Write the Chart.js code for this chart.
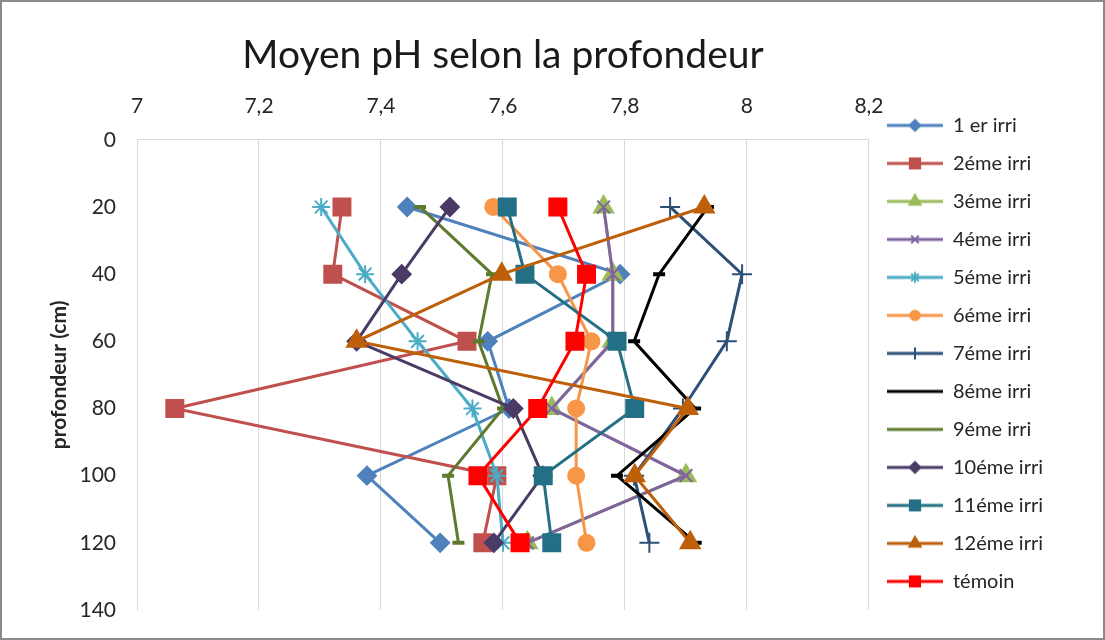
<!DOCTYPE html>
<html>
<head>
<meta charset="utf-8">
<script src="https://cdn.jsdelivr.net/npm/chart.js"></script>
<style>
  body { margin: 0; background: #fff; }
  #wrap { width: 1105px; height: 640px; box-sizing: border-box; border: 2px solid #8a8a8a; background: #fff; }
</style>
</head>
<body>
<div id="wrap"><canvas id="chart" width="1101" height="636"></canvas></div>
<script>
// depth (cm) of each sample, pH
const depths = [20, 40, 60, 80, 100, 120];
const xTicks = [7, 7.2, 7.4, 7.6, 7.8, 8, 8.2];

const names = ["1 er irri", "2éme irri", "3éme irri", "4éme irri", "5éme irri", "6éme irri",
  "7éme irri", "8éme irri", "9éme irri", "10éme irri", "11éme irri", "12éme irri", "témoin"];

const irri1 = [7.443, 7.792, 7.575, 7.61, 7.377, 7.497];
const irri2 = [7.336, 7.321, 7.541, 7.062, 7.59, 7.567];
const irri3 = [7.765, 7.78, 7.78, 7.68, 7.9, 7.64];
const irri4 = [7.765, 7.78, 7.78, 7.68, 7.9, 7.64];
const irri5 = [7.302, 7.374, 7.46, 7.55, 7.59, 7.6];
const irri6 = [7.584, 7.69, 7.745, 7.72, 7.72, 7.737];
const irri7 = [7.874, 7.992, 7.967, 7.895, 7.815, 7.84];
const irri8 = [7.936, 7.856, 7.815, 7.915, 7.787, 7.916];
const irri9 = [7.464, 7.582, 7.56, 7.6, 7.51, 7.527];
const irri10 = [7.513, 7.434, 7.36, 7.617, 7.665, 7.585];
const irri11 = [7.607, 7.636, 7.787, 7.816, 7.666, 7.68];
const irri12 = [7.93, 7.598, 7.36, 7.903, 7.816, 7.907];
const temoin = [7.69, 7.737, 7.718, 7.657, 7.559, 7.628];

const series = [irri1, irri2, irri3, irri4, irri5, irri6, irri7, irri8, irri9, irri10, irri11, irri12, temoin];

const colors = ["#4F81BD", "#C0504D", "#9BBB59", "#8064A2", "#4BACC6", "#F79646",
  "#2E4F78", "#000000", "#5E7A2E", "#4A3A66", "#236F85", "#BE5F0A", "#FF0000"];
const markers = ["rectRot", "rect", "triangle", "crossRot", "star", "circle",
  "cross", "line", "line", "rectRot", "rect", "triangle", "rect"];
const radii = [9, 12, 11, 9, 9, 8, 10, 6, 6, 9, 12, 11, 12];

// small line + marker picture for the legend
function legendIcon(i) {
  const c = document.createElement("canvas");
  c.width = 56; c.height = 20;
  const ctx = c.getContext("2d");
  ctx.strokeStyle = colors[i];
  ctx.fillStyle = colors[i];
  ctx.lineWidth = 3;
  ctx.beginPath();
  ctx.moveTo(0, 10);
  ctx.lineTo(56, 10);
  ctx.stroke();
  if (markers[i] !== "line") {
    ctx.lineWidth = 2;
    Chart.helpers.drawPoint(ctx, { pointStyle: markers[i], radius: radii[i] * 0.6, rotation: 0, borderWidth: 2 }, 28, 10);
  }
  return c;
}

const datasets = names.map((name, i) => ({
  label: name,
  data: depths.map((d, j) => ({ x: series[i][j], y: d })),
  borderColor: colors[i],
  backgroundColor: colors[i],
  borderWidth: 3,
  pointStyle: markers[i],
  pointRadius: radii[i],
  pointBorderWidth: markers[i] === "line" ? 4 : 2,
  pointHoverRadius: radii[i],
  tension: 0,
  order: names.length - 1 - i,
}));

new Chart(document.getElementById("chart"), {
  type: "line",
  data: { datasets: datasets },
  options: {
    responsive: false,
    animation: false,
    layout: { padding: { left: 10, right: 50, top: 0, bottom: 28 } },
    scales: {
      x: {
        type: "linear",
        position: "top",
        min: 7,
        max: 8.2,
        afterBuildTicks: (axis) => { axis.ticks = xTicks.map((v) => ({ value: v })); },
        afterFit: (axis) => { axis.height = 55; },
        grid: { color: "#d9d9d9", drawTicks: false },
        border: { color: "#d9d9d9" },
        ticks: {
          color: "#262626",
          font: { family: "Lato", size: 21 },
          padding: 21,
          callback: (v) => String(Math.round(v * 10) / 10).replace(".", ","),
        },
      },
      y: {
        type: "linear",
        reverse: true,
        min: 0,
        max: 140,
        afterFit: (axis) => {
          axis.width = 125;
          axis.paddingTop = 10;
          axis.paddingBottom = 10;
        },
        grid: { display: false, drawTicks: false },
        border: { display: true, color: "#d9d9d9" },
        ticks: { stepSize: 20, color: "#262626", font: { family: "Lato", size: 21 }, padding: 21 },
        title: {
          display: true,
          text: "profondeur (cm)",
          color: "#262626",
          font: { family: "Lato", size: 21, weight: "bold" },
          padding: { top: 35, bottom: 0 },
        },
      },
    },
    plugins: {
      title: {
        display: true,
        text: "Moyen pH selon la profondeur",
        color: "#1a1a1a",
        fullSize: false,
        font: { family: "Lato", size: 39, weight: "normal" },
        padding: { top: 30, bottom: 6 },
      },
      legend: {
        position: "right",
        align: "start",
        title: { display: true, text: "", padding: { top: 81, bottom: 0 } },
        labels: {
          usePointStyle: true,
          pointStyleWidth: 56,
          color: "#262626",
          font: { family: "Lato", size: 20 },
          padding: 18,
          generateLabels: (chart) => chart.data.datasets.map((ds, i) => ({
            text: ds.label,
            pointStyle: legendIcon(i),
            fillStyle: colors[i],
            strokeStyle: colors[i],
            lineWidth: 0,
            hidden: false,
            datasetIndex: i,
            fontColor: "#262626",
          })),
        },
      },
      tooltip: { enabled: false },
    },
  },
});
</script>
</body>
</html>
